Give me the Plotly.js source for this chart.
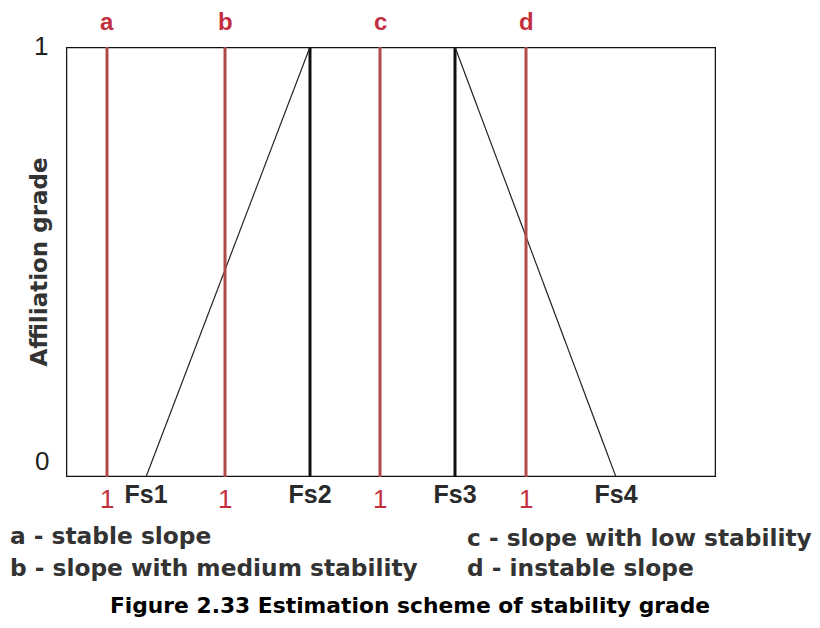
<!DOCTYPE html>
<html>
<head>
<meta charset="utf-8">
<script src="https://cdn.plot.ly/plotly-3.0.1.min.js"></script>
<style>html,body{margin:0;padding:0;background:#fff;}#chart{width:820px;height:628px;}</style>
</head>
<body>
<div id="chart"></div>
<script>
// ---- data ----
const boxX = [0, 0, 65, 65, 0];
const boxY = [1, 0, 0, 1, 1];
const gradeLetters = ['a', 'b', 'c', 'd'];
const gradeX = [4.1, 15.9, 31.4, 46.0];
const gradeValue = ['1', '1', '1', '1'];
const fsLabels = ['Fs1', 'Fs2', 'Fs3', 'Fs4'];
const fsX = [8.0, 24.4, 38.9, 55.0];
const memberY = [0, 1, 1, 0];
const yTickLabels = ['0', '1'];
const legendLeft = ['a - stable slope', 'b - slope with medium stability'];
const legendRight = ['c - slope with low stability', 'd - instable slope'];
const figTitle = 'Figure 2.33 Estimation scheme of stability grade';

// ---- geometry helpers (plot area in pixels) ----
const W = 820, H = 628;
const M = {l: 66, r: 104, t: 47, b: 151};
const PW = W - M.l - M.r, PH = H - M.t - M.b;
const px = x => (x - M.l) / PW;
const py = y => (H - M.b - y) / PH;

const RED = '#b04a48';
const RED_TXT = '#c23040';

const traces = [];
// frame
traces.push({x: boxX, y: boxY, mode: 'lines', line: {color: '#111', width: 2.5}, hoverinfo: 'skip', showlegend: false, cliponaxis: false});
// vertical black lines at Fs2, Fs3
traces.push({x: [fsX[1], fsX[1], null, fsX[2], fsX[2]], y: [0, 1, null, 0, 1], mode: 'lines', line: {color: '#111', width: 3}, hoverinfo: 'skip', showlegend: false});
// membership slopes
traces.push({x: [fsX[0], fsX[1], null, fsX[2], fsX[3]], y: [memberY[0], memberY[1], null, memberY[2], memberY[3]], mode: 'lines', line: {color: '#222', width: 1.2}, hoverinfo: 'skip', showlegend: false});
// red grade lines
const rx = [], ry = [];
gradeX.forEach(v => { rx.push(v, v, null); ry.push(0, 1, null); });
traces.push({x: rx, y: ry, mode: 'lines', line: {color: RED, width: 3}, hoverinfo: 'skip', showlegend: false});

const ann = [];
const txtFont = {family: 'DejaVu Sans', size: 23.3, color: '#333', weight: 'bold'};
gradeLetters.forEach((t, i) => ann.push({x: gradeX[i], y: py(22), xref: 'x', yref: 'paper', text: t, showarrow: false, font: {family: 'Liberation Sans', size: 24, color: RED_TXT, weight: 'bold'}, xanchor: 'center', yanchor: 'middle'}));
gradeValue.forEach((t, i) => ann.push({x: gradeX[i], y: py(499), xref: 'x', yref: 'paper', text: t, showarrow: false, font: {family: 'Liberation Sans', size: 26, color: RED_TXT}, xanchor: 'center', yanchor: 'middle'}));
ann.push({x: px(41), y: py(46), xref: 'paper', yref: 'paper', text: yTickLabels[1], showarrow: false, font: {family: 'Liberation Sans', size: 26, color: '#222'}, xanchor: 'center', yanchor: 'middle'});
ann.push({x: px(42), y: py(461), xref: 'paper', yref: 'paper', text: yTickLabels[0], showarrow: false, font: {family: 'Liberation Sans', size: 26, color: '#222'}, xanchor: 'center', yanchor: 'middle'});
ann.push({x: px(8), y: py(535), xref: 'paper', yref: 'paper', text: legendLeft[0], showarrow: false, font: txtFont, xanchor: 'left', yanchor: 'middle'});
ann.push({x: px(8), y: py(567), xref: 'paper', yref: 'paper', text: legendLeft[1], showarrow: false, font: txtFont, xanchor: 'left', yanchor: 'middle'});
ann.push({x: px(465), y: py(537), xref: 'paper', yref: 'paper', text: legendRight[0], showarrow: false, font: txtFont, xanchor: 'left', yanchor: 'middle'});
ann.push({x: px(465), y: py(567), xref: 'paper', yref: 'paper', text: legendRight[1], showarrow: false, font: txtFont, xanchor: 'left', yanchor: 'middle'});

const layout = {
  width: W, height: H,
  margin: M,
  paper_bgcolor: '#fff', plot_bgcolor: '#fff',
  showlegend: false,
  title: {text: figTitle, x: 0.5, xref: 'container', xanchor: 'center', y: 1 - 605 / H, yref: 'container', yanchor: 'middle',
          font: {family: 'DejaVu Sans', size: 21.8, color: '#000', weight: 'bold'}},
  xaxis: {range: [0, 65], showgrid: false, zeroline: false, showline: false, ticks: '',
          tickvals: fsX, ticktext: fsLabels, tickfont: {family: 'Liberation Sans', size: 25, color: '#2a2a2a', weight: 'bold'}, fixedrange: true},
  yaxis: {range: [0, 1], showgrid: false, zeroline: false, showline: false, ticks: '', showticklabels: false,
          title: {text: 'Affiliation grade', font: {family: 'DejaVu Sans', size: 23, color: '#333', weight: 'bold'}, standoff: 10}, fixedrange: true},
  annotations: ann
};

Plotly.newPlot('chart', traces, layout, {staticPlot: true});
</script>
</body>
</html>
